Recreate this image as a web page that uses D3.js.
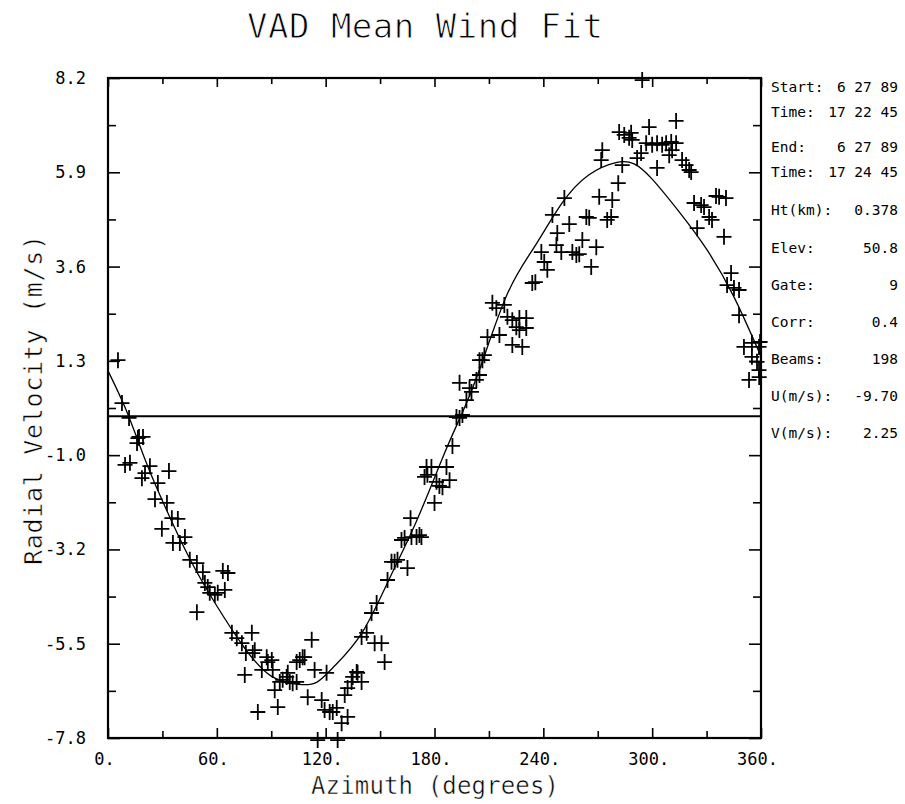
<!DOCTYPE html>
<html>
<head>
<meta charset="utf-8">
<script src="https://cdn.jsdelivr.net/npm/d3@7"></script>
<style>
  body { margin: 0; background: #fff; }
  svg { display: block; }
</style>
</head>
<body>
<svg id="chart"></svg>
<script>
// Dimensions de la page
const width = 905,
  height = 804;

// Données : azimut (degrés) et vitesse radiale (m/s) de chaque faisceau
const azimuth = [
  5.5, 7.7, 11.6, 17.1, 16.5, 19.3, 16.0, 9.4, 12.1, 23.1, 33.6, 18.7, 20.4, 27.5, 25.9, 32.5,
  35.2, 38.5, 29.7, 35.8, 39.6, 42.4, 45.1, 49.0, 52.3, 63.3, 66.1, 53.4, 55.0, 56.1, 58.9, 60.5,
  64.4, 49.0, 68.3, 71.0, 73.8, 79.3, 76.0, 79.8, 87.5, 107.3, 112.3,
  75.4, 80.9, 84.8, 88.1, 90.3, 90.8, 82.6, 93.6, 91.9, 94.7, 96.3, 98.5, 99.1, 100.2, 101.8,
  104.0, 104.0, 105.7, 108.4, 113.9, 110.1, 117.8, 119.4, 122.2, 123.9, 126.1, 115.6, 126.6,
  128.8, 132.1, 120.5, 130.5, 132.1, 134.3, 134.9, 137.1, 137.6, 139.8, 152.5,
  139.8, 142.6, 147.0, 150.8, 145.3, 148.1, 154.1, 156.3, 158.0, 159.6, 165.1, 161.8, 163.5,
  167.3, 170.1, 171.7, 166.8, 174.5, 176.1, 175.6, 178.3, 186.6, 181.1, 182.7, 184.4, 188.3,
  180.0, 172.8, 189.9, 193.8, 192.1, 195.4, 197.6, 200.4, 199.3, 193.8, 204.8, 203.1, 204.8,
  206.4, 207.5, 209.2, 215.8, 222.9, 228.4, 225.1, 226.8, 230.6, 220.2, 222.9, 226.8, 230.6,
  211.9, 214.1, 218.5, 233.9, 235.6, 238.9, 240.5, 242.2, 247.2, 249.9, 256.0, 258.2, 259.8,
  266.4, 251.6, 245.0, 254.3, 263.7, 265.3, 275.2, 277.4, 247.7, 261.5, 269.2,
  294.5, 313.2, 298.3, 281.8, 284.6, 288.4, 287.3, 289.0, 296.7, 300.0, 302.7, 305.5, 307.7,
  310.5, 313.2, 272.5, 271.9, 291.7, 293.9, 283.5, 309.4, 311.0, 316.5, 318.7, 320.4, 321.5,
  302.7, 281.3, 270.8, 278.0,
  340.7, 336.9, 335.2, 323.1, 327.0, 328.6, 331.4, 333.0, 324.8, 339.6, 343.5, 341.3, 345.1,
  347.9, 347.9, 350.6, 355.0, 358.9, 359.5, 355.0, 357.8, 353.4, 359.0, 358.9
];
const velocity = [
  1.36, 0.32, -0.04, -0.50, -0.53, -0.50, -0.65, -1.18, -1.13, -1.21, -1.33, -1.50, -1.38, -1.62, -2.01, -2.10,
  -2.47, -2.49, -2.73, -3.07, -3.07, -2.93, -3.48, -3.56, -3.78, -3.75, -3.80, -4.04, -4.14, -4.28, -4.33, -4.28,
  -4.21, -4.75, -5.25, -5.38, -5.50, -5.25, -5.74, -5.74, -5.84, -5.84, -5.42,
  -6.27, -5.67, -6.15, -5.96, -5.91, -6.15, -7.17, -7.05, -6.64, -6.44, -6.39, -6.32, -6.22, -6.44, -6.47,
  -6.44, -5.96, -5.91, -5.84, -6.15, -6.81, -6.88, -7.12, -7.17, -7.17, -7.07, -7.85, -7.85,
  -7.44, -7.29, -6.22, -6.76, -6.59, -6.44, -6.32, -6.20, -6.22, -6.44, -5.96,
  -5.35, -5.25, -5.50, -5.50, -4.77, -4.53, -3.97, -3.53, -3.53, -3.48, -3.68, -3.00, -2.95,
  -2.93, -2.93, -2.88, -2.47, -1.47, -1.42, -1.23, -1.23, -1.23, -1.59, -1.69, -1.72, -1.55,
  -2.10, -2.93, -0.72, -0.04, -0.02, 0.03, 0.39, 0.59, 0.68, 0.81, 1.00, 0.88, 1.36,
  1.36, 1.48, 1.92, 1.97, 1.73, 1.68, 2.16, 2.09, 2.14, 2.41, 2.33, 2.38, 2.38,
  2.75, 2.62, 2.70, 3.23, 3.25, 3.98, 3.74, 3.55, 4.15, 3.98, 3.98, 3.91, 3.93,
  3.62, 5.29, 4.88, 4.66, 4.83, 4.81, 4.76, 4.83, 4.44, 4.27, 4.10,
  8.15, 7.16, 7.01, 6.89, 6.82, 6.87, 6.75, 6.70, 6.62, 6.58, 6.62, 6.58, 6.62,
  6.65, 6.62, 6.45, 6.21, 6.26, 6.38, 6.09, 6.33, 6.45, 6.21, 6.09, 5.97, 5.92,
  6.02, 5.65, 5.32, 5.24,
  5.29, 5.32, 5.34, 5.17, 5.12, 5.07, 4.83, 4.76, 4.56, 4.35, 3.47, 3.18, 3.11,
  3.06, 2.45, 1.68, 1.78, 1.68, 1.80, 1.44, 1.32, 0.88, 0.95, 1.12
];

// Courbe ajustée
const fitAzimuth = [0, 10, 20, 30, 45, 60, 75, 90, 105, 115, 125, 140, 155, 170, 185, 195,
  205, 220, 235, 250, 265, 280, 290, 300, 315, 330, 345, 360];
const fitVelocity = [1.1, 0.15, -1.0, -2.05, -3.45, -4.6, -5.6, -6.3, -6.5, -6.45, -6.05, -5.25,
  -3.95, -2.55, -0.95, 0.05, 1.15, 2.95, 4.1, 5.15, 5.85, 6.15, 6.12, 5.75, 4.95, 4.05, 2.9, 1.45];

// Graduations
const xTickValues = [0, 30, 60, 90, 120, 150, 180, 210, 240, 270, 300, 330, 360];
const xTickLabels = ["0.", "", "60.", "", "120.", "", "180.", "", "240.", "", "300.", "", "360."];
const yTickLabels = ["-7.8", "-5.5", "-3.2", "-1.0", "1.3", "3.6", "5.9", "8.2"];

// Paramètres affichés à droite
const infoLabels = ["Start:", "Time:", "End:", "Time:", "Ht(km):", "Elev:", "Gate:", "Corr:", "Beams:", "U(m/s):", "V(m/s):"];
const infoValues = ["6 27 89", "17 22 45", "6 27 89", "17 24 45", "0.378", "50.8", "9", "0.4", "198", "-9.70", "2.25"];

const svg = d3.select("#chart").attr("width", width).attr("height", height);

// Bords du cadre
const pLeft = 108, pRight = 761, pTop = 78, pBottom = 738;

const x = d3.scaleLinear().domain([0, 360]).range([pLeft, pRight]);
const y = d3.scaleLinear().domain([-7.8, 8.2]).range([pBottom, pTop]);

const yTickValues = d3.range(yTickLabels.length).map(i => -7.8 + i * 16 / 7);
const yMinorValues = d3.range(yTickLabels.length - 1).map(i => -7.8 + (i + 0.5) * 16 / 7);

const mono = "'DejaVu Sans Mono', monospace";

// Texte fin : un léger contour blanc amincit le tracé des lettres
function thinText(sel, w) {
  sel.attr("fill", "#000").attr("stroke", "#fff").attr("stroke-width", w).attr("paint-order", "fill");
}

// Titre
svg.append("text")
  .attr("x", 425).attr("y", 38)
  .attr("text-anchor", "middle")
  .attr("font-family", mono)
  .attr("font-size", 34)
  .attr("textLength", 356)
  .call(thinText, 0.9)
  .text("VAD Mean Wind Fit");

// Axes
function styleAxis(g) {
  g.select(".domain").remove();
  g.selectAll(".tick line").attr("stroke", "#000").attr("stroke-width", 1.6);
  g.selectAll(".tick text").attr("fill", "#000").attr("font-family", mono).attr("font-size", 17);
}

// gauche
svg.append("g").attr("transform", `translate(${pLeft},0)`)
  .call(d3.axisLeft(y).tickValues(yTickValues).tickSize(-12).tickPadding(22)
    .tickFormat((d, i) => yTickLabels[i]))
  .call(styleAxis);
svg.append("g").attr("transform", `translate(${pLeft},0)`)
  .call(d3.axisLeft(y).tickValues(yMinorValues).tickSize(-8).tickFormat(""))
  .call(styleAxis);

// droite
svg.append("g").attr("transform", `translate(${pRight},0)`)
  .call(d3.axisRight(y).tickValues(yTickValues).tickSize(-12).tickFormat(""))
  .call(styleAxis);
svg.append("g").attr("transform", `translate(${pRight},0)`)
  .call(d3.axisRight(y).tickValues(yMinorValues).tickSize(-8).tickFormat(""))
  .call(styleAxis);

// bas
const xMajor = xTickValues.filter((d, i) => i % 2 === 0);
const xMinor = xTickValues.filter((d, i) => i % 2 === 1);
svg.append("g").attr("transform", `translate(0,${pBottom})`)
  .call(d3.axisBottom(x).tickValues(xMajor).tickSize(-10).tickPadding(15)
    .tickFormat(d => xTickLabels[xTickValues.indexOf(d)]))
  .call(styleAxis)
  .call(g => g.selectAll(".tick text").attr("dx", -4));
svg.append("g").attr("transform", `translate(0,${pBottom})`)
  .call(d3.axisBottom(x).tickValues(xMinor).tickSize(-7).tickFormat(""))
  .call(styleAxis);

// haut
svg.append("g").attr("transform", `translate(0,${pTop})`)
  .call(d3.axisTop(x).tickValues(xMajor).tickSize(-9).tickFormat(""))
  .call(styleAxis);
svg.append("g").attr("transform", `translate(0,${pTop})`)
  .call(d3.axisTop(x).tickValues(xMinor).tickSize(-6).tickFormat(""))
  .call(styleAxis);

// Cadre
svg.append("rect")
  .attr("x", pLeft).attr("y", pTop)
  .attr("width", pRight - pLeft).attr("height", pBottom - pTop)
  .attr("fill", "none").attr("stroke", "#000").attr("stroke-width", 2.2);

// Ligne zéro
svg.append("line")
  .attr("x1", x(0)).attr("x2", x(360))
  .attr("y1", y(0)).attr("y2", y(0))
  .attr("stroke", "#000").attr("stroke-width", 2);

// Courbe ajustée
const fitPoints = fitAzimuth.map((a, i) => [a, fitVelocity[i]]);
svg.append("path")
  .datum(fitPoints)
  .attr("fill", "none")
  .attr("stroke", "#000")
  .attr("stroke-width", 1.3)
  .attr("d", d3.line().x(d => x(d[0])).y(d => y(d[1])).curve(d3.curveNatural));

// Observations (croix)
const obs = azimuth.map((a, i) => [a, velocity[i]]);
svg.append("g")
  .selectAll("path")
  .data(obs)
  .join("path")
  .attr("transform", d => `translate(${x(d[0])},${y(d[1])})`)
  .attr("d", "M-7.5,0H7.5M0,-8V8")
  .attr("stroke", "#000")
  .attr("stroke-width", 1.8)
  .attr("fill", "none");

// Titres des axes
svg.append("text")
  .attr("x", 435).attr("y", 794)
  .attr("text-anchor", "middle")
  .attr("font-family", mono)
  .attr("font-size", 24)
  .attr("textLength", 248)
  .call(thinText, 0.5)
  .text("Azimuth (degrees)");

svg.append("text")
  .attr("transform", "translate(42,400) rotate(-90)")
  .attr("text-anchor", "middle")
  .attr("font-family", mono)
  .attr("font-size", 25)
  .attr("textLength", 330)
  .call(thinText, 0.5)
  .text("Radial Velocity (m/s)");

// Panneau d'informations
const infoY = [87, 112, 147, 172, 210, 248, 285, 322, 359, 396, 433];
const info = svg.append("g")
  .attr("font-family", mono)
  .attr("font-size", 14.5)
  .attr("fill", "#000");
info.selectAll("text.lab")
  .data(infoLabels)
  .join("text")
  .attr("class", "lab")
  .attr("x", 771)
  .attr("y", (d, i) => infoY[i] + 5)
  .text(d => d);
info.selectAll("text.val")
  .data(infoValues)
  .join("text")
  .attr("class", "val")
  .attr("x", 898)
  .attr("y", (d, i) => infoY[i] + 5)
  .attr("text-anchor", "end")
  .text(d => d);
</script>
</body>
</html>
